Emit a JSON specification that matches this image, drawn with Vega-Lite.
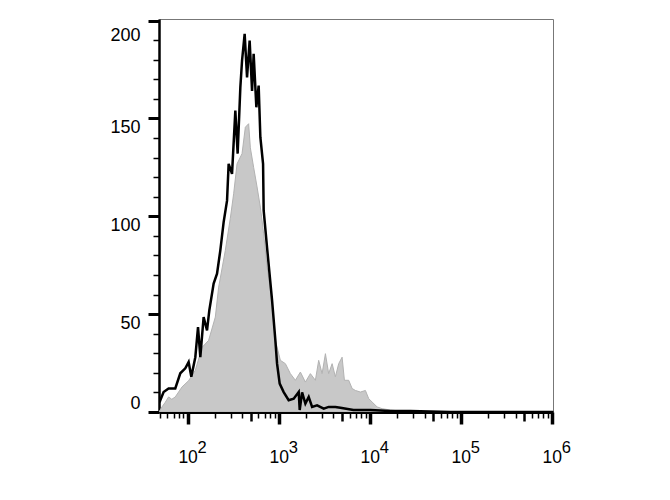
{
  "$schema": "https://vega.github.io/schema/vega-lite/v6.json",
  "autosize": {"type": "none"},
  "padding": {"left": 159, "top": 19, "right": 117, "bottom": 88},
  "width": 394,
  "height": 393,
  "background": "white",
  "config": {
    "view": {"stroke": "#777777", "strokeWidth": 1},
    "font": "Liberation Sans",
    "axis": {"labelFont": "Liberation Sans", "labelColor": "black", "domainColor": "black", "tickColor": "black", "grid": false, "title": null}
  },
  "datasets": {
    "gray": [
      {"x": 48.5, "count": 0}, {"x": 52.3, "count": 2.6}, {"x": 56.9, "count": 5}, {"x": 61.8, "count": 7.7}, {"x": 67, "count": 6.5},
      {"x": 73.2, "count": 7.7}, {"x": 86.8, "count": 12.8}, {"x": 102.6, "count": 16}, {"x": 121.5, "count": 21.3},
      {"x": 143.9, "count": 33}, {"x": 170.1, "count": 36.6}, {"x": 201.5, "count": 48.5}, {"x": 219.2, "count": 63.8},
      {"x": 259.6, "count": 82.6}, {"x": 294.5, "count": 99}, {"x": 320.3, "count": 111.5}, {"x": 349.1, "count": 126.8},
      {"x": 396, "count": 132}, {"x": 430.5, "count": 145.5}, {"x": 468.1, "count": 147.3}, {"x": 488.7, "count": 135},
      {"x": 531, "count": 125}, {"x": 579, "count": 115}, {"x": 629, "count": 104.7}, {"x": 657, "count": 98},
      {"x": 684, "count": 91}, {"x": 746, "count": 74}, {"x": 846, "count": 57}, {"x": 920, "count": 36.6},
      {"x": 1044, "count": 26.4}, {"x": 1185, "count": 24.7}, {"x": 1345, "count": 19.6}, {"x": 1526, "count": 16.2},
      {"x": 1732, "count": 20.4}, {"x": 1965, "count": 15.3}, {"x": 2230, "count": 19.6}, {"x": 2531, "count": 16.2},
      {"x": 2752, "count": 26.4}, {"x": 2999, "count": 19.6}, {"x": 3261, "count": 29.8}, {"x": 3541, "count": 19.6},
      {"x": 3863, "count": 24.7}, {"x": 4197, "count": 18}, {"x": 4563, "count": 24.7}, {"x": 4974, "count": 28},
      {"x": 5272, "count": 16.2}, {"x": 5877, "count": 16.2}, {"x": 6410, "count": 12}, {"x": 6966, "count": 11},
      {"x": 7906, "count": 10.2}, {"x": 8969, "count": 11}, {"x": 9750, "count": 6.8}, {"x": 10630, "count": 5.1},
      {"x": 12060, "count": 2.6}, {"x": 13690, "count": 1.7}, {"x": 16880, "count": 1}, {"x": 21750, "count": 0.5},
      {"x": 28000, "count": 0}, {"x": 1030000, "count": 0}
    ],
    "black": [
      {"x": 49.2, "count": 5}, {"x": 50.1, "count": 6}, {"x": 54.5, "count": 10.2}, {"x": 61.8, "count": 12}, {"x": 73.2, "count": 12},
      {"x": 83.1, "count": 19.8}, {"x": 94.3, "count": 22.3}, {"x": 102.6, "count": 25.5}, {"x": 109.8, "count": 18},
      {"x": 121.5, "count": 28}, {"x": 130.1, "count": 43.4}, {"x": 137.9, "count": 28}, {"x": 149.9, "count": 48.5},
      {"x": 163.4, "count": 41.7}, {"x": 173.2, "count": 52}, {"x": 193.1, "count": 65.6}, {"x": 210.4, "count": 70.7},
      {"x": 228.7, "count": 82.6}, {"x": 248.7, "count": 97}, {"x": 271, "count": 108}, {"x": 282.2, "count": 126.8},
      {"x": 307.5, "count": 121.7}, {"x": 334.3, "count": 154}, {"x": 354.4, "count": 132}, {"x": 379.5, "count": 166},
      {"x": 396.2, "count": 179.6}, {"x": 423.1, "count": 193.2}, {"x": 449.5, "count": 171}, {"x": 480, "count": 189.8},
      {"x": 510.2, "count": 164}, {"x": 531.3, "count": 183}, {"x": 568.8, "count": 155.7}, {"x": 602.9, "count": 166.8},
      {"x": 629.4, "count": 140.4}, {"x": 674, "count": 126.8}, {"x": 684.3, "count": 103}, {"x": 745.6, "count": 84},
      {"x": 846.3, "count": 57}, {"x": 920, "count": 36.6}, {"x": 960.3, "count": 24.7}, {"x": 1026, "count": 14.5},
      {"x": 1135, "count": 10.2}, {"x": 1288, "count": 6}, {"x": 1462, "count": 6.8}, {"x": 1660, "count": 10.2},
      {"x": 1702, "count": 1}, {"x": 1808, "count": 10}, {"x": 1965, "count": 4.3}, {"x": 2137, "count": 7.7},
      {"x": 2328, "count": 2.6}, {"x": 2642, "count": 3.4}, {"x": 3125, "count": 1.7}, {"x": 3541, "count": 2.6},
      {"x": 4197, "count": 2.6}, {"x": 4764, "count": 2.2}, {"x": 6621, "count": 1}, {"x": 10180, "count": 1},
      {"x": 16880, "count": 0.5}, {"x": 28000, "count": 0.5}, {"x": 77000, "count": 0}, {"x": 1030000, "count": 0}
    ],
    "exps": [
      {"x": 100, "count": 0, "e": "2"}, {"x": 1000, "count": 0, "e": "3"}, {"x": 10000, "count": 0, "e": "4"}, {"x": 100000, "count": 0, "e": "5"}, {"x": 1000000, "count": 0, "e": "6"}
    ]
  },
  "encoding": {
    "x": {
      "field": "x", "type": "quantitative",
      "scale": {"type": "log", "domain": [48.5, 1030000], "nice": false},
      "axis": {
        "values": [50,60,70,80,90,100,200,300,400,500,600,700,800,900,1000,2000,3000,4000,5000,6000,7000,8000,9000,10000,20000,30000,40000,50000,60000,70000,80000,90000,100000,200000,300000,400000,500000,600000,700000,800000,900000,1000000],
        "labelExpr": "indexof([100,1000,10000,100000,1000000], datum.value) >= 0 ? '10' : ''",
        "labelOverlap": false,
        "labelBound": false,
        "labelFontSize": 17.5,
        "labelPadding": 24,
        "domainWidth": 3,
        "tickSize": {"condition": [{"test": "indexof([100,1000,10000,100000,1000000], datum.value) >= 0", "value": 12}, {"test": "indexof([500,5000,50000,500000], datum.value) >= 0", "value": 9}], "value": 6},
        "tickWidth": {"condition": [{"test": "indexof([100,1000,10000,100000,1000000], datum.value) >= 0", "value": 3.5}, {"test": "indexof([500,5000,50000,500000], datum.value) >= 0", "value": 2.5}], "value": 1.5}
      }
    },
    "y": {
      "field": "count", "type": "quantitative",
      "scale": {"domain": [0, 200.8], "nice": false},
      "axis": {
        "values": [0,10,20,30,40,50,60,70,80,90,100,110,120,130,140,150,160,170,180,190,200],
        "labelExpr": "datum.value % 50 === 0 ? datum.label : ''",
        "labelOverlap": false,
        "labelBound": false,
        "labelFontSize": 18,
        "labelPadding": 8,
        "labelBaseline": {"condition": {"test": "datum.value === 0", "value": "bottom"}, "value": "top"},
        "labelOffset": {"condition": {"test": "datum.value === 200", "value": 6}, "value": 0},
        "domainWidth": 2.5,
        "tickSize": {"condition": {"test": "datum.value % 50 === 0", "value": 11}, "value": 6},
        "tickWidth": {"condition": {"test": "datum.value % 50 === 0", "value": 3}, "value": 1.5}
      }
    }
  },
  "layer": [
    {
      "data": {"name": "gray"},
      "mark": {"type": "area", "color": "#c8c8c8", "stroke": "#b2b2b2", "strokeWidth": 1, "clip": true}
    },
    {
      "data": {"name": "black"},
      "mark": {"type": "line", "color": "black", "strokeWidth": 2.5, "clip": true}
    },
    {
      "data": {"name": "exps"},
      "mark": {"type": "text", "align": "left", "baseline": "alphabetic", "dx": 10, "dy": 41, "fontSize": 16.5, "font": "Liberation Sans", "color": "black"},
      "encoding": {
        "text": {"field": "e"}
      }
    }
  ]
}
